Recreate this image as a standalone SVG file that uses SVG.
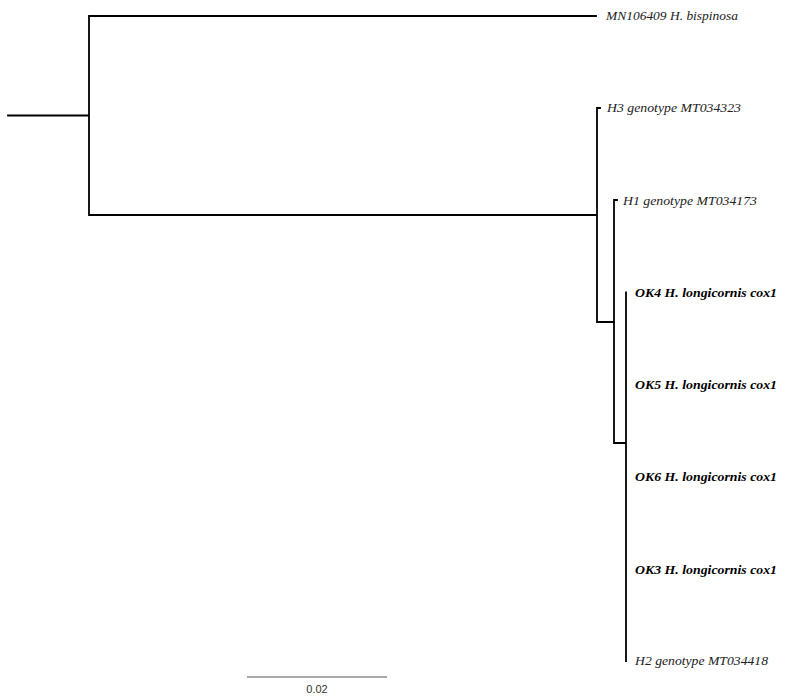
<svg xmlns="http://www.w3.org/2000/svg" width="786" height="699" viewBox="0 0 786 699">
<style>
.br{fill:none;stroke:#000;stroke-width:1.8;stroke-linecap:square}
.lab{font-family:"Liberation Serif","Times New Roman",serif;font-style:italic;font-size:13.5px;fill:#222}
.b{font-weight:bold;fill:#000}
.sc{font-family:"Liberation Sans",Arial,sans-serif;font-size:11px;fill:#333}
</style>
<rect width="786" height="699" fill="#fff"/>
<g id="connectors">
<path class="br" d="M8 115.5H89M89 16V215M89 16H596M89 215H597M597 108V322M597 108H600M597 322H614M614 200V443M614 200H617M614 443H626M626 292.5V661"/>
<path d="M247 677H387" stroke="#555" stroke-width="1.2" fill="none"/>
</g>
<g id="n-mn"><text class="lab" x="606" y="20" textLength="132" lengthAdjust="spacingAndGlyphs">MN106409 H. bispinosa</text></g>
<g id="n-h3"><text class="lab" x="607" y="112" textLength="134" lengthAdjust="spacingAndGlyphs">H3 genotype MT034323</text></g>
<g id="n-h1"><text class="lab" x="623" y="205" textLength="134" lengthAdjust="spacingAndGlyphs">H1 genotype MT034173</text></g>
<g id="n-ok4"><text class="lab b" x="635" y="297" textLength="142" lengthAdjust="spacingAndGlyphs">OK4 H. longicornis cox1</text></g>
<g id="n-ok5"><text class="lab b" x="635" y="389" textLength="142" lengthAdjust="spacingAndGlyphs">OK5 H. longicornis cox1</text></g>
<g id="n-ok6"><text class="lab b" x="635" y="481" textLength="142" lengthAdjust="spacingAndGlyphs">OK6 H. longicornis cox1</text></g>
<g id="n-ok3"><text class="lab b" x="635" y="574" textLength="142" lengthAdjust="spacingAndGlyphs">OK3 H. longicornis cox1</text></g>
<g id="n-h2"><text class="lab" x="635" y="665" textLength="133" lengthAdjust="spacingAndGlyphs">H2 genotype MT034418</text></g>
<g id="scale"><text class="sc" x="317" y="693" text-anchor="middle">0.02</text></g>
</svg>
